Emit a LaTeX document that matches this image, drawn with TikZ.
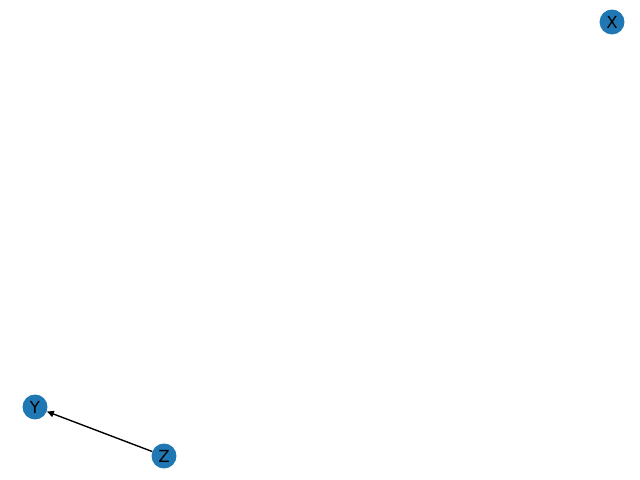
\documentclass[tikz,border=0pt]{standalone}
\usepackage{fontspec}
\setmainfont{DejaVu Sans}
\usepackage{xcolor}
\usetikzlibrary{
    arrows.meta,
    positioning
}
\definecolor{nodeblue}{HTML}{1F77B4}
\tikzset{
    graphnode/.style = {circle, fill=nodeblue, minimum size=18pt,
      inner sep=0pt, font=\fontsize{12}{14}\selectfont}
  }

\begin{document}
\begin{tikzpicture}[x=0.01in, y=-0.01in]

\useasboundingbox (0,0) rectangle (640,480);

\node[graphnode] at (612,22) (x) {X};

\node[graphnode] at (35,407) (y) {Y};

\node[graphnode] at (164,456) (z) {Z}
  edge[-{Stealth[length=5pt,width=4.5pt,inset=0pt]}, line width=1pt] (y);

\end{tikzpicture}
\end{document}
